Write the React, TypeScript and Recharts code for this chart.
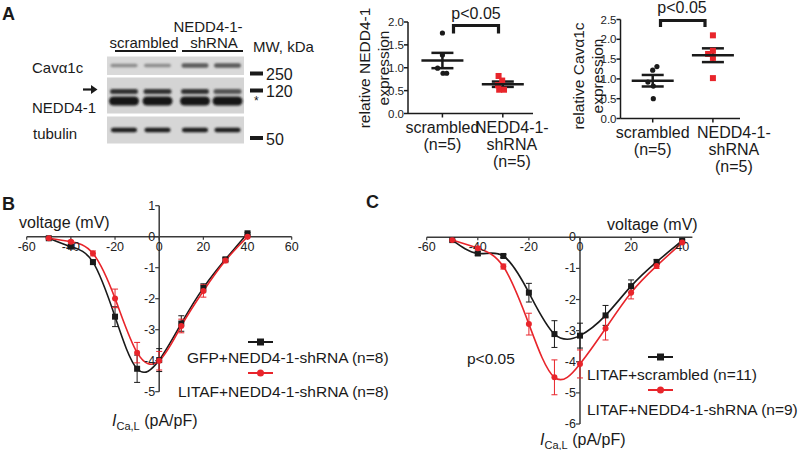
import React from "react";
import {
  ErrorBar,
  Line,
  LineChart,
  ReferenceDot,
  ReferenceLine,
  Scatter,
  ScatterChart,
  XAxis,
  YAxis,
} from "recharts";

const FONT = "'Liberation Sans', Arial, Helvetica, sans-serif";
const RED = "#e8252b";
const AXIS = "#3a3a3a";
const INK = "#1a1a1a";

// ---- panel A: densitometry ----
const catLabels = [
  ["scrambled", "(n=5)"],
  ["NEDD4-1-", "shRNA", "(n=5)"],
];
const neddScrX = [1.0, 1.0, 0.92, 1.01, 1.07];
const neddScrY = [1.76, 1.28, 0.99, 0.88, 0.88];
const neddShX = [1.93, 1.99, 1.92, 1.94, 2.02];
const neddShY = [0.82, 0.72, 0.62, 0.52, 0.52];
const cavScrX = [1.07, 1.0, 0.92, 1.01, 1.01];
const cavScrY = [1.31, 1.22, 0.92, 0.82, 0.5];
const cavShX = [2.0, 2.0, 1.92, 2.0, 2.0];
const cavShY = [2.1, 1.71, 1.63, 1.53, 1.02];
const neddTicks = [0, 0.5, 1, 1.5, 2];
const cavTicks = [0, 0.5, 1, 1.5, 2, 2.5];

// ---- panels B, C: I-V curves ----
const volts = [-50, -40, -30, -20, -10, 0, 10, 20, 30, 40];
const gfpShI = [-0.05, -0.32, -0.82, -2.58, -4.26, -3.98, -2.8, -1.65, -0.73, 0.11];
const gfpShErr = [0.02, 0.05, 0.07, 0.32, 0.44, 0.37, 0.25, 0.13, 0.06, 0.03];
const litafShI = [-0.05, -0.16, -0.54, -1.99, -3.74, -4.0, -2.88, -1.75, -0.77, 0.0];
const litafShErr = [0.02, 0.04, 0.08, 0.3, 0.33, 0.3, 0.22, 0.2, 0.07, 0.03];
const litafScrI = [-0.09, -0.52, -0.6, -1.78, -3.11, -3.16, -2.51, -1.57, -0.79, -0.11];
const litafScrErr = [0.02, 0.06, 0.05, 0.3, 0.43, 0.4, 0.32, 0.2, 0.07, 0.03];
const litafSh2I = [-0.09, -0.35, -0.94, -2.79, -4.5, -4.07, -2.93, -1.78, -0.92, -0.17];
const litafSh2Err = [0.02, 0.05, 0.08, 0.35, 0.56, 0.45, 0.37, 0.2, 0.08, 0.03];
const bXTicks = [-60, -40, -20, 0, 20, 40, 60];
const bYTicks = [1, 0, -1, -2, -3, -4, -5];
const cXTicks = [-60, -40, -20, 0, 20, 40];
const cYTicks = [0, -1, -2, -3, -4, -5, -6];

const mean = (a: number[]) => a.reduce((s, v) => s + v, 0) / a.length;
const sem = (a: number[]) => {
  const m = mean(a);
  const sd = Math.sqrt(a.reduce((s, v) => s + (v - m) ** 2, 0) / (a.length - 1));
  return sd / Math.sqrt(a.length);
};

const blackDot = (p: any) => <circle cx={p.cx} cy={p.cy} r={2.6} fill={INK} />;
const redSquare = (p: any) => <rect x={p.cx - 3} y={p.cy - 3} width={6} height={6} fill={RED} />;
const meanLine = (p: any) => (
  <line x1={p.cx - 21} x2={p.cx + 21} y1={p.cy} y2={p.cy} stroke={INK} strokeWidth={2.5} />
);

function CatTick(props: any) {
  const { x, y, payload, shift } = props;
  const idx = payload.value === 1 ? 0 : 1;
  const dx = idx === 1 ? shift : 0;
  return (
    <g>
      {catLabels[idx].map((s, i) => (
        <text
          key={s}
          x={x + dx}
          y={y + 8 + i * 17}
          textAnchor="middle"
          dominantBaseline="central"
          fontSize={16}
          fontFamily={FONT}
          fill={INK}
        >
          {s}
        </text>
      ))}
    </g>
  );
}

function DensPanel(props: any) {
  const { scrX, scrY, shX, shY, yMax, yTicks, xDomain, margin, shift } = props;
  const scr = scrX.map((x: number, i: number) => ({ x, y: scrY[i] }));
  const sh = shX.map((x: number, i: number) => ({ x, y: shY[i] }));
  const stats = [
    { x: 1, y: mean(scrY), e: sem(scrY) },
    { x: 2, y: mean(shY), e: sem(shY) },
  ];
  return (
    <div style={{ position: "absolute", left: 0, top: 0 }}>
      <ScatterChart width={800} height={450} margin={margin}>
        <XAxis
          type="number"
          dataKey="x"
          domain={xDomain}
          ticks={[1, 2]}
          interval={0}
          allowDataOverflow
          height={60}
          tickSize={4}
          stroke={INK}
          strokeWidth={1.5}
          tick={(p: any) => <CatTick {...p} shift={shift} />}
        />
        <YAxis
          type="number"
          dataKey="y"
          domain={[0, yMax]}
          ticks={yTicks}
          interval={0}
          width={40}
          tickSize={4}
          tickMargin={0}
          stroke={INK}
          strokeWidth={1.5}
          tickFormatter={(v: number) => v.toFixed(1)}
          tick={{ fontSize: 11.5, fill: "#222", fontFamily: FONT }}
        />
        <Scatter data={scr} shape={blackDot} isAnimationActive={false} />
        <Scatter data={sh} shape={redSquare} isAnimationActive={false} />
        <Scatter data={stats} shape={meanLine} isAnimationActive={false}>
          <ErrorBar dataKey="e" direction="y" width={11} stroke={INK} strokeWidth={2.5} />
        </Scatter>
      </ScatterChart>
    </div>
  );
}

const squareDot = (p: any) => (
  <rect key={`s${p.index}`} x={p.cx - 3} y={p.cy - 3} width={6} height={6} fill={INK} />
);
const circleDot = (p: any) => <circle key={`c${p.index}`} cx={p.cx} cy={p.cy} r={3} fill={RED} />;

function IVPanel(props: any) {
  const { black, blackErr, red, redErr, xDomain, yDomain, xTicks, yTicks, margin } = props;
  const data = volts.map((v, i) => ({
    v,
    k: black[i],
    kErr: blackErr[i],
    r: red[i],
    rErr: redErr[i],
  }));
  return (
    <div style={{ position: "absolute", left: 0, top: 0 }}>
      <LineChart width={800} height={450} data={data} margin={margin}>
        <XAxis type="number" dataKey="v" domain={xDomain} hide allowDataOverflow />
        <YAxis type="number" domain={yDomain} hide allowDataOverflow />
        <ReferenceLine y={0} stroke={AXIS} strokeWidth={1.5} />
        <ReferenceLine x={0} stroke={AXIS} strokeWidth={1.5} />
        {xTicks.map((t: number) => (
          <ReferenceDot
            key={`x${t}`}
            x={t}
            y={0}
            r={1}
            shape={(p: any) => (
              <g>
                <line x1={p.cx} x2={p.cx} y1={p.cy} y2={p.cy + 3} stroke={AXIS} strokeWidth={1.2} />
                <text
                  x={p.cx}
                  y={p.cy + 10}
                  textAnchor="middle"
                  dominantBaseline="central"
                  fontSize={12.5}
                  fontFamily={FONT}
                  fill="#222"
                >
                  {t}
                </text>
              </g>
            )}
          />
        ))}
        {yTicks.map((t: number) => (
          <ReferenceDot
            key={`y${t}`}
            x={0}
            y={t}
            r={1}
            shape={(p: any) => (
              <g>
                <line x1={p.cx - 4} x2={p.cx} y1={p.cy} y2={p.cy} stroke={AXIS} strokeWidth={1.2} />
                <text
                  x={p.cx - 4}
                  y={p.cy}
                  textAnchor="end"
                  dominantBaseline="central"
                  fontSize={12.5}
                  fontFamily={FONT}
                  fill="#222"
                >
                  {t}
                </text>
              </g>
            )}
          />
        ))}
        <Line
          dataKey="k"
          type="natural"
          stroke={INK}
          strokeWidth={1.6}
          dot={squareDot}
          activeDot={false}
          isAnimationActive={false}
        >
          <ErrorBar dataKey="kErr" width={3} stroke={INK} strokeWidth={1} />
        </Line>
        <Line
          dataKey="r"
          type="natural"
          stroke={RED}
          strokeWidth={1.6}
          dot={circleDot}
          activeDot={false}
          isAnimationActive={false}
        >
          <ErrorBar dataKey="rErr" width={3} stroke={RED} strokeWidth={1} />
        </Line>
      </LineChart>
    </div>
  );
}

function Band({ x, y, w, h, c }: any) {
  return <rect x={x - w / 2} y={y - h / 2} width={w} height={h} rx={h / 2} fill={c} filter="url(#blur)" />;
}

function Overlay() {
  const lanes = [124, 157.5, 195, 227.5];
  const txt = { fontFamily: FONT, fill: INK };
  const ica = (x: number, y: number) => (
    <text x={x} y={y} fontSize={16} {...txt}>
      <tspan fontStyle="italic">I</tspan>
      <tspan fontSize={11} dy={4}>Ca,L</tspan>
      <tspan dy={-4}> (pA/pF)</tspan>
    </text>
  );
  return (
    <svg
      width={800}
      height={450}
      style={{ position: "absolute", left: 0, top: 0, pointerEvents: "none" }}
    >
      <defs>
        <filter id="blur" x="-20%" y="-100%" width="140%" height="300%">
          <feGaussianBlur stdDeviation="0.9" />
        </filter>
      </defs>
      {/* panel letters */}
      <text x={2} y={20} fontSize={18} fontWeight="bold" {...txt}>A</text>
      <text x={2} y={210} fontSize={18} fontWeight="bold" {...txt}>B</text>
      <text x={366} y={208} fontSize={18} fontWeight="bold" {...txt}>C</text>

      {/* western blot */}
      <text x={144} y={42} fontSize={15} textAnchor="middle" dominantBaseline="central" {...txt}>scrambled</text>
      <text x={208} y={26} fontSize={15} textAnchor="middle" dominantBaseline="central" {...txt}>NEDD4-1-</text>
      <text x={214} y={42} fontSize={15} textAnchor="middle" dominantBaseline="central" {...txt}>shRNA</text>
      <text x={253} y={46} fontSize={15} dominantBaseline="central" {...txt}>MW, kDa</text>
      <line x1={115} x2={176} y1={51} y2={51} stroke={INK} strokeWidth={2} />
      <line x1={182} x2={243} y1={51} y2={51} stroke={INK} strokeWidth={2} />
      <rect x={107} y={56.5} width={137} height={18.5} fill="#d9d9d9" />
      <rect x={107} y={77.5} width={137} height={36} fill="#d4d4d4" />
      <rect x={107} y={116.5} width={137} height={27} fill="#d6d6d6" />
      {lanes.map((x, i) => (
        <g key={x}>
          <Band x={x} y={65.5} w={27} h={i < 2 ? 3.5 : 4.5} c={i < 2 ? "#8c8c8c" : "#5a5a5a"} />
          <Band x={x} y={91.5} w={28} h={5} c={i === 3 ? "#555" : "#333"} />
          <Band x={x} y={101} w={30} h={9} c="#181818" />
          <Band x={x} y={130} w={26} h={4.5} c="#1e1e1e" />
        </g>
      ))}
      <text x={32} y={67} fontSize={15} dominantBaseline="central" {...txt}>Cavα1c</text>
      <text x={32} y={107} fontSize={15} dominantBaseline="central" {...txt}>NEDD4-1</text>
      <text x={33} y={133} fontSize={15} dominantBaseline="central" {...txt}>tubulin</text>
      <path d="M83 89.5 H94" stroke={INK} strokeWidth={2.2} />
      <path d="M91 85 L97.5 89.5 L91 94 Z" fill={INK} />
      <rect x={250} y={71.5} width={13} height={4} fill={INK} />
      <rect x={250} y={88.5} width={13} height={4} fill={INK} />
      <rect x={250} y={136} width={13} height={4} fill={INK} />
      <text x={266} y={74} fontSize={16} dominantBaseline="central" {...txt}>250</text>
      <text x={266} y={91} fontSize={16} dominantBaseline="central" {...txt}>120</text>
      <text x={254} y={105} fontSize={12} {...txt}>*</text>
      <text x={266} y={139} fontSize={16} dominantBaseline="central" {...txt}>50</text>

      {/* densitometry annotations */}
      <g transform="translate(364,68) rotate(-90)">
        <text x={0} y={0} fontSize={15.5} textAnchor="middle" dominantBaseline="central" {...txt}>relative NEDD4-1</text>
        <text x={0} y={19} fontSize={15.5} textAnchor="middle" dominantBaseline="central" {...txt}>expression</text>
      </g>
      <g transform="translate(578,76) rotate(-90)">
        <text x={0} y={0} fontSize={15.5} textAnchor="middle" dominantBaseline="central" {...txt}>relative Cavα1c</text>
        <text x={0} y={19} fontSize={15.5} textAnchor="middle" dominantBaseline="central" {...txt}>expression</text>
      </g>
      <text x={476} y={13} fontSize={16} textAnchor="middle" dominantBaseline="central" {...txt}>p&lt;0.05</text>
      <path d="M453.5 33.5 V25.5 H498.5 V33.5" fill="none" stroke={INK} strokeWidth={3.2} />
      <text x={682} y={7} fontSize={16} textAnchor="middle" dominantBaseline="central" {...txt}>p&lt;0.05</text>
      <path d="M660.5 27 V20.5 H705 V27" fill="none" stroke={INK} strokeWidth={3.2} />

      {/* panel B annotations */}
      <text x={19} y={222} fontSize={16} dominantBaseline="central" {...txt}>voltage (mV)</text>
      {ica(112, 426)}
      <line x1={248} x2={273} y1={342} y2={342} stroke={INK} strokeWidth={2} />
      <rect x={257} y={338.5} width={7} height={7} fill={INK} />
      <text x={187} y={357} fontSize={15.5} dominantBaseline="central" {...txt}>GFP+NEDD4-1-shRNA (n=8)</text>
      <line x1={248} x2={273} y1={373} y2={373} stroke={RED} strokeWidth={2} />
      <circle cx={260.5} cy={373} r={3.5} fill={RED} />
      <text x={178} y={391} fontSize={15.5} dominantBaseline="central" {...txt}>LITAF+NEDD4-1-shRNA (n=8)</text>

      {/* panel C annotations */}
      <text x={607} y={224} fontSize={16} dominantBaseline="central" {...txt}>voltage (mV)</text>
      {ica(540, 445)}
      <text x={467} y={358} fontSize={15.5} dominantBaseline="central" {...txt}>p&lt;0.05</text>
      <line x1={648} x2={673} y1={357} y2={357} stroke={INK} strokeWidth={2} />
      <rect x={657} y={353.5} width={7} height={7} fill={INK} />
      <text x={587} y={374} fontSize={15.5} dominantBaseline="central" {...txt}>LITAF+scrambled (n=11)</text>
      <line x1={648} x2={673} y1={390} y2={390} stroke={RED} strokeWidth={2} />
      <circle cx={660.5} cy={390} r={3.5} fill={RED} />
      <text x={587} y={409} fontSize={15.5} dominantBaseline="central" {...txt}>LITAF+NEDD4-1-shRNA (n=9)</text>
    </svg>
  );
}

export default function App() {
  return (
    <div
      style={{
        position: "absolute",
        left: 0,
        top: 0,
        width: 800,
        height: 450,
        background: "#fff",
        overflow: "hidden",
        fontFamily: FONT,
      }}
    >
      <DensPanel
        scrX={neddScrX}
        scrY={neddScrY}
        shX={neddShX}
        shY={neddShY}
        yMax={2}
        yTicks={neddTicks}
        xDomain={[0.43, 2.5]}
        margin={{ top: 22, left: 368, right: 267, bottom: 276.5 }}
        shift={9}
      />
      <DensPanel
        scrX={cavScrX}
        scrY={cavScrY}
        shX={cavShX}
        shY={cavShY}
        yMax={2.5}
        yTicks={cavTicks}
        xDomain={[0.465, 2.45]}
        margin={{ top: 19.5, left: 580.5, right: 60, bottom: 271.5 }}
        shift={21}
      />
      <IVPanel
        black={gfpShI}
        blackErr={gfpShErr}
        red={litafShI}
        redErr={litafShErr}
        xDomain={[-60, 60]}
        yDomain={[-5, 1]}
        xTicks={bXTicks}
        yTicks={bYTicks}
        margin={{ top: 205.7, left: 26.7, right: 508.3, bottom: 58.3 }}
      />
      <IVPanel
        black={litafScrI}
        blackErr={litafScrErr}
        red={litafSh2I}
        redErr={litafSh2Err}
        xDomain={[-60, 44]}
        yDomain={[-6, 0]}
        xTicks={cXTicks}
        yTicks={cYTicks}
        margin={{ top: 237.3, left: 426.7, right: 107.6, bottom: 26 }}
      />
      <Overlay />
    </div>
  );
}
